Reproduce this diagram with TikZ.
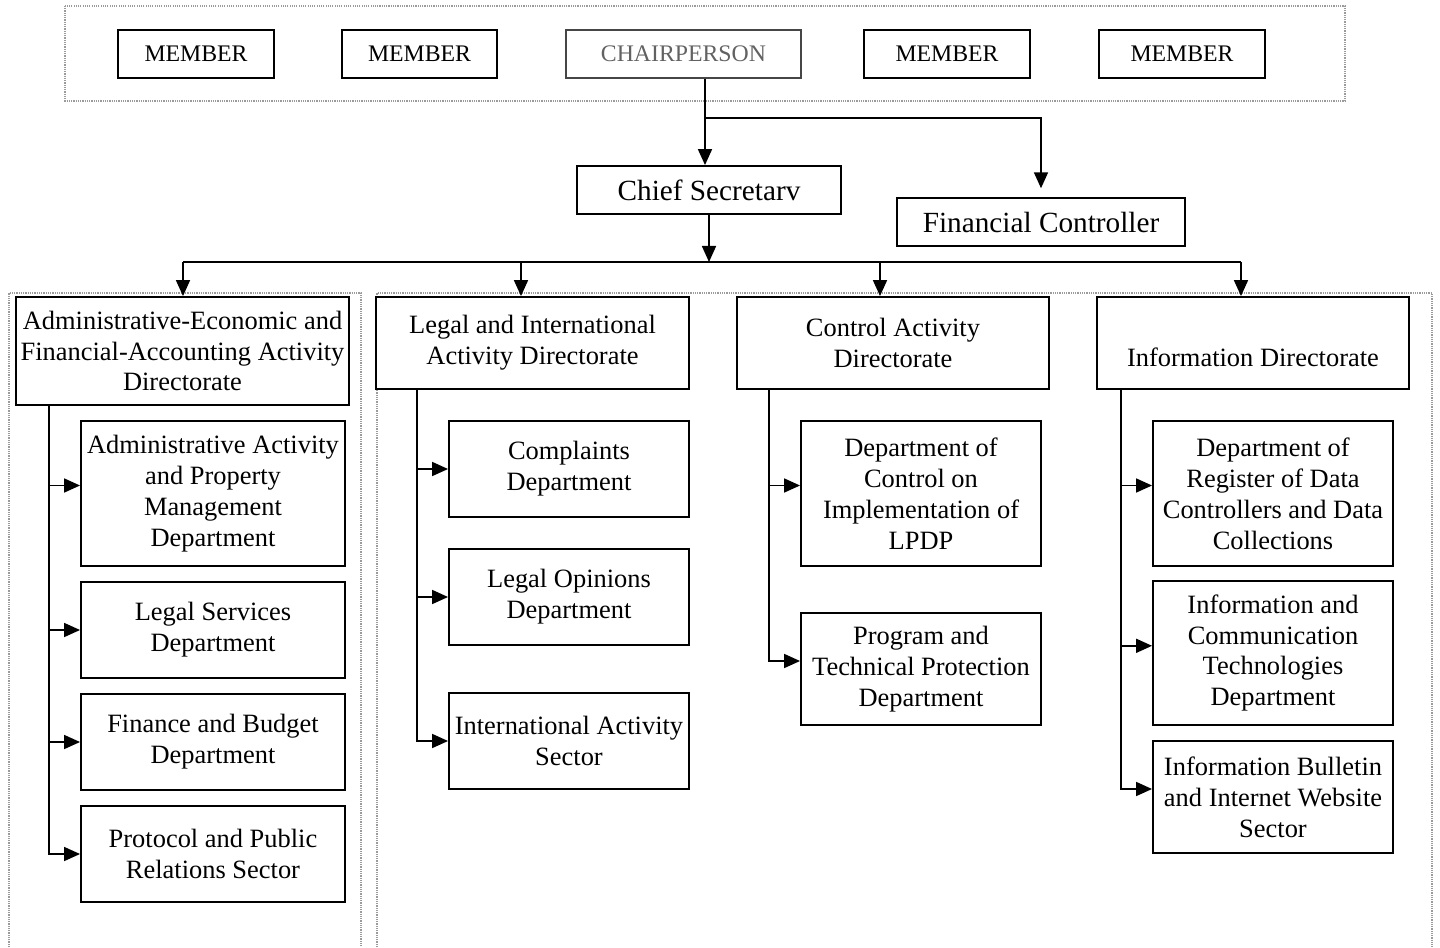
\documentclass[tikz,border=0pt]{standalone}
\usepackage{fontspec}
\setmainfont{Liberation Serif}
\usetikzlibrary{positioning,arrows.meta,calc}

\definecolor{framegray}{RGB}{155,155,155}
\definecolor{chairgray}{RGB}{70,70,70}

\begin{document}
\begin{tikzpicture}[x=0.025cm,y=-0.025cm,
  box/.style={draw,fill=white,line width=1.3pt,inner sep=2pt,align=center,
    font=\fontsize{18.8}{22}\selectfont},
  member/.style={box,minimum height=1.2cm,font=\fontsize{16.9}{20}\selectfont},
  head/.style={box,minimum height=1.2cm,font=\fontsize{20.8}{24}\selectfont},
  line/.style={line width=1.2pt},
  conn/.style={line,-{Triangle[length=0.4cm,width=0.35cm]}},
  frame/.style={draw=framegray,line width=0.8pt,dash pattern=on 0.8pt off 0.8pt}]

\useasboundingbox (0,0) rectangle (1440,947);

% dotted frames
\draw[frame] (65,6) rectangle (1345,101);
\draw[frame] (9,947) -- (9,293) -- (361,293) -- (361,947);
\draw[frame] (377,947) -- (377,293) -- (1432,293) -- (1432,947);

% board
\node[member,minimum width=3.9cm]   (m1) at (196,54) {MEMBER};
\node[member,minimum width=3.875cm] (m2) at (419.5,54) {MEMBER};
\node[member,minimum width=5.875cm,draw=chairgray,text=chairgray!85] (chair) at (683.5,54) {CHAIRPERSON};
\node[member,minimum width=4.15cm]  (m3) at (947,54) {MEMBER};
\node[member,minimum width=4.15cm]  (m4) at (1182,54) {MEMBER};

\node[head,minimum width=6.6cm] (chief) at (709,190) {Chief Secretarv};
\node[head,minimum width=7.2cm] (fin) at (1041,222) {Financial Controller};

% directorates
\node[box,minimum width=8.325cm,minimum height=2.7cm] (dir1) at (182.5,351)
  {Administrative-Economic and\\Financial-Accounting Activity\\Directorate};
\node[box,minimum width=7.825cm,minimum height=2.3cm] (dir2) at (532.5,343)
  {Legal and International\\Activity Directorate};
\node[box,minimum width=7.8cm,minimum height=2.3cm] (dir3) at (893,343)
  {Control Activity\\Directorate};
\node[box,minimum width=7.8cm,minimum height=2.3cm] (dir4) at (1253,343)
  {\mbox{}\\[11pt]Information Directorate};

% departments and sectors
\node[box,minimum width=6.6cm,minimum height=3.625cm] (a1) at (213,493.5)
  {Administrative Activity\\and Property\\Management\\Department};
\node[box,minimum width=6.6cm,minimum height=2.4cm] (a2) at (213,630)
  {Legal Services\\Department};
\node[box,minimum width=6.6cm,minimum height=2.4cm] (a3) at (213,742)
  {Finance and Budget\\Department};
\node[box,minimum width=6.6cm,minimum height=2.4cm] (a4) at (213,854)
  {Protocol and Public\\Relations Sector};

\node[box,minimum width=6cm,minimum height=2.4cm] (b1) at (569,469)
  {Complaints\\Department};
\node[box,minimum width=6cm,minimum height=2.4cm] (b2) at (569,597)
  {Legal Opinions\\Department};
\node[box,minimum width=6cm,minimum height=2.4cm] (b3) at (569,741)
  {International Activity\\Sector};

\node[box,minimum width=6cm,minimum height=3.625cm] (c1) at (921,493.5)
  {Department of\\Control on\\Implementation of\\LPDP};
\node[box,minimum width=6cm,minimum height=2.8cm] (c2) at (921,669)
  {Program and\\Technical Protection\\Department};

\node[box,minimum width=6cm,minimum height=3.625cm] (e1) at (1273,493.5)
  {Department of\\Register of Data\\Controllers and Data\\Collections};
\node[box,minimum width=6cm,minimum height=3.6cm] (e2) at (1273,653)
  {Information and\\Communication\\Technologies\\Department};
\node[box,minimum width=6cm,minimum height=2.8cm] (e3) at (1273,797)
  {Information Bulletin\\and Internet Website\\Sector};

% connectors from the top
\coordinate (cp) at ($(chair.south)+(21.5,0)$);
\draw[conn] (cp) -- (cp |- chief.north);
\draw[conn,shorten >=0.22cm] (cp |- 0,118) -| (fin.north);

\coordinate (bar) at (709,262);
\draw[conn] (chief.south) -- (bar);
\draw[line] (bar -| 183,0) -- (bar -| 1241,0);
\foreach \x/\d in {183/dir1,521/dir2,880/dir3,1241/dir4}
  \draw[conn] (bar -| \x,0) -- (\d.north -| \x,0);

% trunks inside the directorates
\coordinate (t1) at (dir1.south -| 49,0);
\coordinate (t2) at (dir2.south -| 417,0);
\coordinate (t3) at (dir3.south -| 769,0);
\coordinate (t4) at (dir4.south -| 1121,0);

\draw[conn] (t1) |- (a4.west);
\draw[conn] (t2) |- (b3.west);
\draw[conn] (t3) |- ([yshift=0.2cm]c2.west);
\draw[conn] (t4) |- ([yshift=0.2cm]e3.west);
\foreach \t/\s/\dy in {t1/a1/0.2,t1/a2/0,t1/a3/0,t2/b1/0,t2/b2/0,
                       t3/c1/0.2,t4/e1/0.2,t4/e2/0.18}{
  \coordinate (p) at ([yshift=\dy cm]\s.west);
  \draw[conn] (\t |- p) -- (p);
}
\end{tikzpicture}
\end{document}
